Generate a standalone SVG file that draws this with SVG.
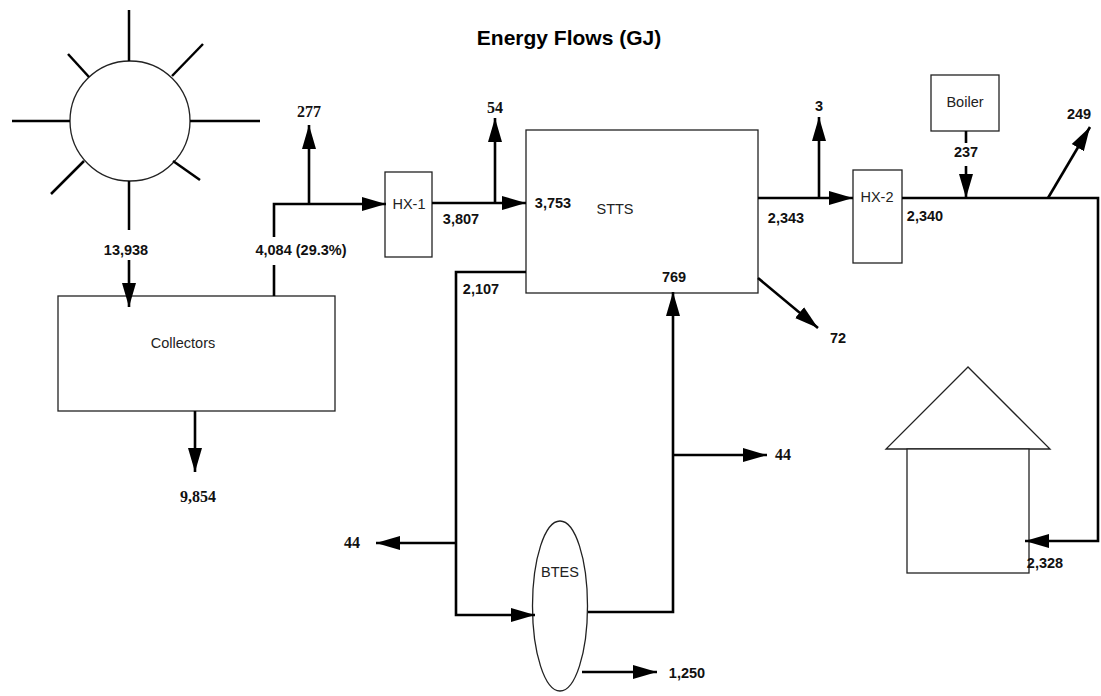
<svg xmlns="http://www.w3.org/2000/svg" width="1101" height="696" viewBox="0 0 1101 696">
<style>
.bg{fill:#fff}
.box{fill:#fff;stroke:#222;stroke-width:1.3}
.ray{stroke:#000;stroke-width:2.5;fill:none}
.flow{stroke:#000;stroke-width:2.6;fill:none}
.fa{marker-end:url(#ah)}
.nl{font-family:"Liberation Sans",Arial,sans-serif;font-size:14.5px;fill:#222;text-anchor:middle}
.ns{font-family:"Liberation Sans",Arial,sans-serif;font-size:14.5px;font-weight:bold;fill:#111;text-anchor:middle}
.nr{font-family:"Liberation Serif","Times New Roman",serif;font-size:16px;font-weight:bold;fill:#111;text-anchor:middle}
.title{font-family:"Liberation Sans",Arial,sans-serif;font-size:21px;font-weight:bold;fill:#000;text-anchor:middle}
</style>
<defs>
<marker id="ah" markerUnits="userSpaceOnUse" markerWidth="25" markerHeight="16" refX="24" refY="8" orient="auto" viewBox="0 0 25 16">
<path d="M0,1 L24,8 L0,15 z" fill="#000"/>
</marker>
</defs>
<rect class="bg" x="0" y="0" width="1101" height="696"/>
<text class="title" x="569" y="45">Energy Flows (GJ)</text>

<g id="sun">
<circle class="box" cx="130" cy="121" r="60"/>
<line class="ray" x1="129" y1="10" x2="129" y2="61"/>
<line class="ray" x1="190" y1="121" x2="260" y2="121"/>
<line class="ray" x1="12" y1="121" x2="70" y2="121"/>
<line class="ray" x1="129" y1="181" x2="129" y2="230"/>
<line class="ray" x1="68" y1="54" x2="89" y2="77"/>
<line class="ray" x1="203" y1="44" x2="172" y2="76"/>
<line class="ray" x1="51" y1="194" x2="84" y2="161"/>
<line class="ray" x1="200" y1="180" x2="173" y2="161"/>
</g>

<g id="collectors">
<rect class="box" x="58" y="296" width="277" height="115"/>
<text class="nl" x="183" y="348">Collectors</text>
</g>
<g id="hx1">
<rect class="box" x="385" y="172" width="47" height="85"/>
<text class="nl" x="409" y="209">HX-1</text>
</g>
<g id="stts">
<rect class="box" x="526" y="130" width="232" height="163"/>
<text class="nl" x="615" y="214">STTS</text>
</g>
<g id="hx2">
<rect class="box" x="853" y="170" width="49" height="93"/>
<text class="nl" x="877" y="202">HX-2</text>
</g>
<g id="boiler">
<rect class="box" x="931" y="75" width="68" height="56"/>
<text class="nl" x="965" y="107">Boiler</text>
</g>
<g id="btes">
<ellipse class="box" cx="560" cy="606" rx="27.5" ry="85"/>
<text class="nl" x="560" y="577">BTES</text>
</g>
<g id="house">
<polygon class="box" points="968,367 886,449 1050,449"/>
<rect class="box" x="907" y="449" width="122" height="124"/>
</g>

<g id="connectors">
<path class="flow fa" d="M129,260 V307"/>
<path class="flow fa" d="M195,411 V472"/>
<path class="flow" d="M274,265 V296"/>
<path class="flow fa" d="M274,237 V204 H386"/>
<path class="flow fa" d="M309,204 V125"/>
<path class="flow fa" d="M432,203 H526"/>
<path class="flow fa" d="M495,203 V118"/>
<path class="flow fa" d="M758,198 H853"/>
<path class="flow fa" d="M819,198 V117"/>
<path class="flow fa" d="M902,198 H1098 V541 H1025"/>
<path class="flow" d="M966,131 V143"/>
<path class="flow fa" d="M966,166 V198"/>
<path class="flow fa" d="M1048,198 L1090,127"/>
<path class="flow fa" d="M758,278 L818,328"/>
<path class="flow fa" d="M526,272 H456 V615 H535"/>
<path class="flow fa" d="M456,543 H376"/>
<path class="flow fa" d="M588,612 H673 V292"/>
<path class="flow fa" d="M673,455 H767"/>
<path class="flow fa" d="M582,672 H657"/>
</g>

<g id="labels">
<text class="ns" x="126" y="255">13,938</text>
<text class="ns" x="301" y="255">4,084 (29.3%)</text>
<text class="nr" x="198" y="502">9,854</text>
<text class="nr" x="309" y="117">277</text>
<text class="nr" x="495" y="113">54</text>
<text class="ns" x="461" y="224">3,807</text>
<text class="ns" x="553" y="208">3,753</text>
<text class="ns" x="481" y="294">2,107</text>
<text class="ns" x="674" y="282">769</text>
<text class="ns" x="819" y="111">3</text>
<text class="ns" x="786" y="223">2,343</text>
<text class="ns" x="838" y="343">72</text>
<text class="ns" x="966" y="157">237</text>
<text class="ns" x="1079" y="119" text-anchor="start">249</text>
<text class="ns" x="925" y="221">2,340</text>
<text class="nr" x="352" y="548">44</text>
<text class="nr" x="783" y="460">44</text>
<text class="ns" x="687" y="678">1,250</text>
<text class="ns" x="1045" y="568">2,328</text>
</g>
</svg>
